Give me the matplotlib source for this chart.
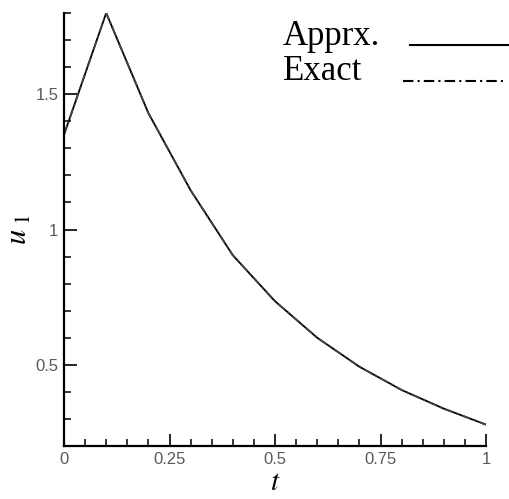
import numpy as np
import matplotlib
matplotlib.use("Agg")
import matplotlib.pyplot as plt
from matplotlib.lines import Line2D
from matplotlib.ticker import MultipleLocator, FuncFormatter

# values
t = [0.0, 0.1, 0.2, 0.3, 0.4, 0.5, 0.6, 0.7, 0.8, 0.9, 1.0]
approx = [1.35, 1.80, 1.43, 1.145, 0.905, 0.735, 0.60, 0.493, 0.407, 0.338, 0.279]
exact = [1.35, 1.80, 1.43, 1.145, 0.905, 0.735, 0.60, 0.493, 0.407, 0.338, 0.279]

xticks = [0, 0.25, 0.5, 0.75, 1]
yticks = [0.5, 1, 1.5]

plt.rcParams['mathtext.fontset'] = 'stix'

fig = plt.figure(figsize=(5.09, 4.99), dpi=100)
ax = fig.add_axes([64/509, 1-446/499, (486-64)/509, (446-13)/499])

dashdot = (0, (5, 2, 1, 2))
ax.plot(t, approx, color='black', lw=1.3)
ax.plot(t, exact, color='#444444', lw=1.3, linestyle=dashdot)

ax.set_xlim(0, 1)
ax.set_ylim(0.2, 1.8)

for s in ['top', 'right']:
    ax.spines[s].set_visible(False)
for s in ['left', 'bottom']:
    ax.spines[s].set_linewidth(1.6)

ax.xaxis.set_minor_locator(MultipleLocator(0.05))
ax.yaxis.set_minor_locator(MultipleLocator(0.1))
ax.set_xticks(xticks)
ax.set_yticks(yticks)

fmt = FuncFormatter(lambda v, p: ('%g' % v))
ax.xaxis.set_major_formatter(fmt)
ax.yaxis.set_major_formatter(fmt)

ax.tick_params(which='major', direction='in', length=9, width=1.2,
               labelsize=12, labelcolor='#5a5a5a', pad=4)
ax.tick_params(which='minor', direction='in', length=5, width=1.1)
for lab in ax.get_xticklabels() + ax.get_yticklabels():
    lab.set_family('Liberation Sans')

ax.set_xlabel(r'$t$', fontsize=21, labelpad=1)
ax.set_ylabel(r'$u_{\ 1}$', fontsize=22, labelpad=2)

# legend key, drawn by hand: text left, sample line right
fig.text(283/509, 1-45/499, 'Apprx.', family='Liberation Serif',
         fontsize=25, va='baseline', ha='left')
fig.text(283/509, 1-80/499, 'Exact', family='Liberation Serif',
         fontsize=25, va='baseline', ha='left')
fig.add_artist(Line2D([410/509, 508/509], [1-45/499, 1-45/499],
                      color='black', lw=1.5, transform=fig.transFigure))
fig.add_artist(Line2D([403/509, 503/509], [1-81/499, 1-81/499],
                      color='black', lw=1.5, linestyle=dashdot,
                      transform=fig.transFigure))

plt.savefig("out.png", dpi=100)
